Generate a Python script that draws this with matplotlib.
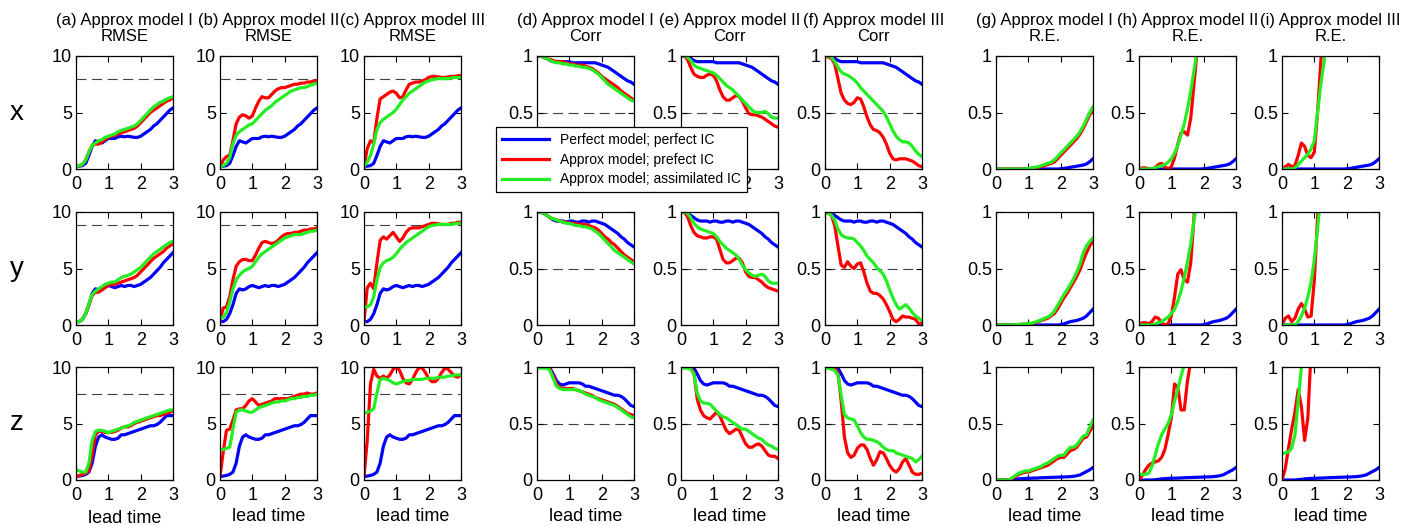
import numpy as np
import matplotlib
matplotlib.use("Agg")
import matplotlib.pyplot as plt
from matplotlib.lines import Line2D

plt.rcParams['font.family'] = ['Liberation Sans', 'DejaVu Sans']

lead_time = np.round(np.linspace(0, 3, 31), 2)

# ---- RMSE ----
rmse_x_pm = [0.2,0.25,0.3,0.5,1.2,2.0,2.5,2.4,2.3,2.5,2.7,2.7,2.7,2.85,2.9,2.85,2.9,2.85,2.8,2.8,2.9,3.1,3.3,3.5,3.8,4.0,4.3,4.6,4.9,5.2,5.4]
rmse_x_m1_pic = [0.2,0.3,0.4,0.8,1.5,2.1,2.2,2.2,2.4,2.6,2.8,2.9,3.0,3.1,3.2,3.3,3.4,3.5,3.6,3.8,4.1,4.4,4.7,5.0,5.2,5.4,5.6,5.8,6.0,6.1,6.3]
rmse_x_m1_aic = [0.2,0.3,0.4,0.8,1.5,2.1,2.3,2.5,2.6,2.8,2.9,3.0,3.1,3.3,3.4,3.5,3.6,3.7,3.8,4.0,4.3,4.6,4.9,5.2,5.5,5.7,5.9,6.0,6.2,6.3,6.4]
rmse_x_m2_pic = [0.2,0.8,1.1,1.2,2.5,4.0,4.6,4.8,4.7,4.5,4.7,5.4,6.0,6.4,6.3,6.3,6.6,6.9,7.1,7.2,7.2,7.3,7.4,7.5,7.5,7.6,7.6,7.7,7.7,7.8,7.8]
rmse_x_m2_aic = [0.2,0.3,0.5,1.0,2.2,3.0,3.3,3.5,3.7,3.9,4.0,4.3,4.6,4.9,5.2,5.4,5.6,5.9,6.1,6.3,6.5,6.7,6.9,7.0,7.1,7.2,7.2,7.3,7.4,7.5,7.6]
rmse_x_m3_pic = [0.2,1.8,2.5,2.3,4.5,6.2,6.4,6.6,6.8,6.9,6.7,6.3,6.4,7.0,7.5,7.6,7.7,7.7,7.8,7.9,8.1,8.2,8.2,8.15,8.1,8.1,8.15,8.2,8.2,8.25,8.3]
rmse_x_m3_aic = [0.2,0.6,1.2,2.2,3.5,4.1,4.4,4.6,4.8,5.0,5.3,5.7,6.1,6.4,6.7,6.9,7.1,7.3,7.5,7.7,7.8,7.9,7.95,8.0,8.0,8.0,8.0,8.05,8.1,8.1,8.1]

rmse_y_pm = [0.3,0.3,0.5,1.0,1.8,2.8,3.2,3.1,3.2,3.4,3.5,3.4,3.3,3.4,3.5,3.4,3.5,3.5,3.4,3.5,3.6,3.8,4.0,4.2,4.5,4.8,5.1,5.5,5.8,6.1,6.4]
rmse_y_m1_pic = [0.3,0.3,0.5,1.0,1.8,2.6,2.9,2.9,3.1,3.3,3.5,3.6,3.6,3.7,3.8,3.9,4.0,4.1,4.2,4.4,4.7,5.0,5.3,5.6,5.9,6.1,6.3,6.5,6.8,7.0,7.2]
rmse_y_m1_aic = [0.3,0.3,0.5,1.0,1.9,2.7,3.0,3.2,3.4,3.6,3.7,3.8,3.8,4.0,4.2,4.3,4.4,4.5,4.7,4.9,5.1,5.4,5.7,6.0,6.3,6.5,6.7,6.9,7.1,7.3,7.4]
rmse_y_m2_pic = [0.4,1.5,1.6,2.5,4.0,5.2,5.6,5.8,5.8,5.7,5.7,6.2,6.8,7.3,7.4,7.3,7.2,7.3,7.5,7.8,8.0,8.1,8.1,8.2,8.2,8.3,8.4,8.4,8.5,8.5,8.6]
rmse_y_m2_aic = [0.6,0.7,1.1,2.0,3.2,4.0,4.4,4.7,4.9,5.0,5.2,5.6,6.0,6.3,6.5,6.7,6.9,7.1,7.3,7.5,7.7,7.8,7.9,8.0,8.0,8.0,8.1,8.2,8.3,8.3,8.4]
rmse_y_m3_pic = [0.3,3.3,3.7,3.2,5.5,7.5,7.8,7.6,7.9,8.2,7.8,7.4,7.7,8.2,8.5,8.6,8.6,8.6,8.7,8.8,8.9,9.0,9.0,8.95,8.9,8.9,8.9,9.0,9.0,9.1,9.1]
rmse_y_m3_aic = [1.6,1.6,1.8,2.5,4.0,5.1,5.5,5.7,5.8,6.0,6.3,6.7,7.0,7.3,7.5,7.7,7.9,8.1,8.3,8.5,8.7,8.8,8.85,8.9,8.9,8.9,8.9,8.9,8.95,9.0,9.0]

rmse_z_pm = [0.3,0.35,0.4,0.5,0.7,1.5,3.0,3.8,4.0,3.8,3.7,3.6,3.6,3.7,4.0,4.0,4.1,4.2,4.3,4.4,4.5,4.6,4.7,4.8,4.8,4.9,5.1,5.4,5.7,5.7,5.7]
rmse_z_m1_pic = [0.3,0.4,0.5,0.6,0.8,2.2,4.0,4.3,4.3,4.2,4.2,4.2,4.3,4.4,4.6,4.7,4.7,4.8,5.0,5.1,5.2,5.3,5.4,5.5,5.6,5.7,5.7,5.8,5.9,6.0,6.1]
rmse_z_m1_aic = [0.9,0.8,0.7,0.7,1.5,3.5,4.3,4.4,4.4,4.3,4.2,4.3,4.4,4.5,4.6,4.7,4.8,4.9,5.1,5.2,5.3,5.4,5.5,5.6,5.7,5.8,5.9,6.0,6.1,6.2,6.2]
rmse_z_m2_pic = [0.3,2.5,4.4,4.5,5.3,6.2,6.3,6.3,6.6,7.0,7.2,6.9,6.6,6.7,6.8,6.9,7.0,7.2,7.2,7.2,7.2,7.2,7.3,7.4,7.5,7.6,7.6,7.7,7.6,7.6,7.7]
rmse_z_m2_aic = [2.7,2.7,2.8,2.9,4.5,6.0,6.2,6.2,6.1,6.0,6.0,6.2,6.4,6.5,6.6,6.7,6.8,6.9,6.9,7.0,7.0,7.1,7.2,7.2,7.3,7.3,7.4,7.4,7.5,7.5,7.6]
rmse_z_m3_pic = [0.3,3.5,8.5,9.8,9.2,9.0,9.2,9.0,9.3,9.8,10.0,9.7,9.0,8.6,8.5,8.9,9.5,9.95,9.9,9.5,9.0,8.7,8.7,9.0,9.5,9.9,9.8,9.5,9.2,9.1,9.3]
rmse_z_m3_aic = [5.9,6.0,6.1,6.3,7.7,8.9,9.0,8.9,8.8,8.6,8.5,8.6,8.7,8.8,8.8,8.9,8.9,8.9,8.9,9.0,9.0,9.0,9.0,9.1,9.1,9.1,9.2,9.2,9.3,9.3,9.3]

rmse_clim = [8.0, 8.85, 7.6]

# ---- Corr ----
corr_x_pm = [1.0,1.0,0.99,0.98,0.96,0.95,0.95,0.95,0.95,0.95,0.95,0.94,0.94,0.94,0.94,0.94,0.94,0.94,0.94,0.93,0.92,0.91,0.90,0.88,0.86,0.84,0.82,0.80,0.78,0.77,0.75]
corr_x_m1_pic = [1.0,1.0,0.99,0.98,0.97,0.96,0.95,0.95,0.95,0.94,0.93,0.93,0.92,0.92,0.92,0.91,0.90,0.89,0.87,0.85,0.82,0.80,0.78,0.76,0.74,0.72,0.69,0.67,0.65,0.63,0.61]
corr_x_m1_aic = [1.0,1.0,0.99,0.98,0.96,0.95,0.94,0.94,0.93,0.93,0.92,0.92,0.91,0.91,0.90,0.90,0.89,0.88,0.86,0.84,0.81,0.78,0.75,0.73,0.71,0.69,0.67,0.65,0.63,0.61,0.60]
corr_x_m2_pic = [1.0,1.0,0.97,0.90,0.84,0.82,0.81,0.81,0.83,0.84,0.83,0.78,0.70,0.64,0.61,0.61,0.63,0.65,0.64,0.60,0.54,0.49,0.48,0.48,0.47,0.46,0.44,0.42,0.40,0.38,0.37]
corr_x_m2_aic = [1.0,1.0,0.99,0.96,0.92,0.90,0.89,0.88,0.87,0.86,0.85,0.83,0.80,0.77,0.74,0.72,0.70,0.67,0.64,0.61,0.58,0.55,0.52,0.50,0.50,0.50,0.51,0.49,0.46,0.45,0.45]
corr_x_m3_pic = [1.0,0.99,0.98,0.93,0.80,0.67,0.61,0.58,0.57,0.59,0.63,0.62,0.55,0.46,0.39,0.35,0.34,0.32,0.28,0.22,0.14,0.09,0.08,0.09,0.09,0.09,0.08,0.07,0.05,0.03,0.02]
corr_x_m3_aic = [1.0,1.0,0.99,0.95,0.90,0.86,0.84,0.83,0.81,0.79,0.76,0.72,0.69,0.66,0.63,0.60,0.57,0.54,0.51,0.46,0.40,0.34,0.29,0.26,0.24,0.24,0.23,0.20,0.16,0.13,0.11]

corr_y_pm = [1.0,1.0,0.99,0.97,0.95,0.93,0.92,0.92,0.92,0.91,0.92,0.92,0.91,0.91,0.92,0.92,0.91,0.92,0.92,0.91,0.90,0.89,0.87,0.85,0.83,0.81,0.78,0.76,0.73,0.71,0.69]
corr_y_m1_pic = [1.0,1.0,0.99,0.97,0.95,0.94,0.93,0.92,0.91,0.91,0.90,0.90,0.90,0.89,0.89,0.89,0.88,0.87,0.86,0.84,0.81,0.78,0.76,0.73,0.71,0.68,0.65,0.62,0.60,0.58,0.56]
corr_y_m1_aic = [1.0,1.0,0.99,0.97,0.95,0.94,0.93,0.92,0.91,0.90,0.90,0.89,0.88,0.88,0.87,0.87,0.86,0.85,0.83,0.81,0.78,0.75,0.72,0.69,0.66,0.64,0.62,0.60,0.58,0.56,0.54]
corr_y_m2_pic = [1.0,1.0,0.96,0.88,0.82,0.79,0.78,0.77,0.77,0.78,0.78,0.76,0.67,0.58,0.55,0.55,0.57,0.59,0.59,0.55,0.47,0.43,0.42,0.42,0.40,0.38,0.35,0.33,0.32,0.31,0.30]
corr_y_m2_aic = [1.0,1.0,0.99,0.95,0.90,0.87,0.85,0.84,0.83,0.82,0.81,0.78,0.74,0.71,0.68,0.66,0.64,0.62,0.58,0.53,0.49,0.46,0.44,0.43,0.44,0.45,0.43,0.39,0.37,0.37,0.37]
corr_y_m3_pic = [1.0,0.99,0.97,0.88,0.70,0.53,0.51,0.56,0.52,0.50,0.54,0.55,0.47,0.37,0.30,0.28,0.28,0.26,0.23,0.18,0.12,0.05,0.03,0.05,0.08,0.07,0.07,0.06,0.05,0.01,0.02]
corr_y_m3_aic = [0.99,0.99,0.97,0.93,0.85,0.80,0.78,0.77,0.77,0.76,0.73,0.70,0.66,0.61,0.58,0.55,0.51,0.48,0.45,0.39,0.31,0.24,0.18,0.14,0.16,0.18,0.15,0.11,0.08,0.06,0.04]

corr_z_pm = [1.0,1.0,1.0,1.0,0.99,0.94,0.88,0.85,0.84,0.85,0.86,0.86,0.86,0.86,0.85,0.83,0.83,0.82,0.81,0.80,0.79,0.78,0.77,0.76,0.75,0.75,0.74,0.72,0.69,0.66,0.65]
corr_z_m1_pic = [1.0,1.0,1.0,1.0,0.98,0.92,0.85,0.82,0.81,0.81,0.81,0.81,0.80,0.79,0.78,0.77,0.76,0.75,0.73,0.72,0.71,0.70,0.69,0.68,0.67,0.65,0.63,0.61,0.59,0.58,0.57]
corr_z_m1_aic = [0.99,0.99,0.99,0.99,0.97,0.90,0.83,0.81,0.80,0.80,0.80,0.80,0.80,0.79,0.78,0.76,0.75,0.74,0.73,0.71,0.70,0.69,0.68,0.67,0.66,0.64,0.62,0.60,0.58,0.56,0.55]
corr_z_m2_pic = [1.0,1.0,1.0,0.99,0.95,0.72,0.62,0.57,0.55,0.54,0.57,0.60,0.57,0.50,0.44,0.41,0.43,0.45,0.44,0.38,0.32,0.29,0.29,0.31,0.32,0.30,0.26,0.22,0.21,0.21,0.19]
corr_z_m2_aic = [0.99,0.99,0.99,0.98,0.94,0.77,0.70,0.68,0.68,0.67,0.64,0.61,0.58,0.56,0.55,0.53,0.51,0.49,0.47,0.45,0.45,0.43,0.41,0.39,0.37,0.36,0.33,0.31,0.30,0.28,0.27]
corr_z_m3_pic = [1.0,1.0,1.0,0.99,0.95,0.70,0.38,0.24,0.20,0.22,0.28,0.31,0.31,0.27,0.19,0.13,0.18,0.25,0.24,0.19,0.13,0.09,0.07,0.10,0.16,0.19,0.13,0.07,0.05,0.05,0.06]
corr_z_m3_aic = [0.99,0.99,0.98,0.97,0.93,0.75,0.58,0.55,0.54,0.53,0.48,0.42,0.38,0.36,0.36,0.35,0.34,0.32,0.29,0.27,0.26,0.26,0.24,0.23,0.22,0.21,0.20,0.19,0.16,0.18,0.21]

# ---- Relative error (series stop once they leave the axes) ----
re_x_pm = [0,0,0,0,0,0,0,0,0,0,0,0,0,0,0,0,0,0,0,0,0.002,0.005,0.01,0.015,0.02,0.025,0.03,0.035,0.045,0.065,0.09]
re_x_m1_pic = [0,0,0,0,0,0,0,0,0,0,0.002,0.005,0.01,0.015,0.02,0.03,0.04,0.05,0.06,0.09,0.12,0.15,0.18,0.21,0.24,0.27,0.31,0.36,0.42,0.48,0.52]
re_x_m1_aic = [0,0,0,0,0,0,0,0,0,0,0.005,0.01,0.015,0.02,0.03,0.04,0.05,0.06,0.08,0.11,0.14,0.17,0.20,0.23,0.26,0.29,0.33,0.38,0.44,0.50,0.55]
re_x_m2_pic = [0,0.01,0.01,0,0,0.01,0.04,0.05,0.02,0,0.02,0.10,0.22,0.32,0.33,0.30,0.45,0.75,1.05,1.4]
re_x_m2_aic = [0,0,0,0,0.005,0.01,0.02,0.03,0.04,0.06,0.09,0.14,0.21,0.30,0.40,0.53,0.69,0.87,1.05]
re_x_m3_pic = [0,0.02,0.04,0.02,0.03,0.12,0.23,0.20,0.12,0.10,0.15,0.5,0.95,1.4]
re_x_m3_aic = [0,0,0,0,0.01,0.04,0.07,0.10,0.13,0.18,0.25,0.5,0.75,0.95,1.2]

re_y_pm = [0,0,0,0,0,0,0,0,0,0,0,0,0,0,0,0,0,0,0,0,0.003,0.01,0.02,0.03,0.035,0.04,0.05,0.06,0.08,0.11,0.14]
re_y_m1_pic = [0,0,0,0,0,0,0.002,0.004,0.006,0.008,0.01,0.012,0.02,0.03,0.04,0.05,0.06,0.08,0.10,0.14,0.19,0.24,0.28,0.33,0.38,0.43,0.49,0.57,0.64,0.70,0.74]
re_y_m1_aic = [0,0,0,0,0,0,0.003,0.005,0.008,0.01,0.013,0.016,0.025,0.035,0.045,0.06,0.07,0.09,0.12,0.17,0.22,0.27,0.31,0.36,0.41,0.47,0.54,0.64,0.70,0.74,0.77]
re_y_m2_pic = [0,0.02,0.02,0.01,0.03,0.07,0.06,0.02,0,0.01,0.08,0.25,0.45,0.49,0.40,0.38,0.55,0.95,1.4]
re_y_m2_aic = [0,0,0,0,0,0.01,0.02,0.03,0.05,0.07,0.10,0.14,0.21,0.30,0.42,0.56,0.72,0.92,1.1]
re_y_m3_pic = [0,0.06,0.08,0.03,0.06,0.14,0.19,0.14,0.07,0.08,0.4,0.95,1.5]
re_y_m3_aic = [0,0,0,0,0,0.03,0.08,0.15,0.25,0.38,0.58,0.85,1.15]

re_z_pm = [0,0,0,0,0,0.003,0.006,0.01,0.012,0.014,0.015,0.016,0.017,0.018,0.02,0.021,0.022,0.023,0.024,0.025,0.026,0.027,0.028,0.03,0.033,0.038,0.045,0.06,0.075,0.09,0.11]
re_z_m1_pic = [0,0,0,0,0,0.01,0.03,0.05,0.06,0.07,0.07,0.08,0.09,0.10,0.11,0.12,0.13,0.15,0.17,0.19,0.20,0.20,0.23,0.26,0.27,0.29,0.33,0.37,0.38,0.43,0.48]
re_z_m1_aic = [0,0,0,0,0,0.02,0.04,0.06,0.07,0.08,0.08,0.09,0.10,0.11,0.12,0.14,0.15,0.17,0.19,0.21,0.22,0.22,0.26,0.29,0.29,0.31,0.35,0.39,0.40,0.47,0.53]
re_z_m2_pic = [0,0.04,0.09,0.13,0.15,0.16,0.17,0.20,0.27,0.40,0.55,0.85,0.82,0.62,0.62,0.88,1.05]
re_z_m2_aic = [0.05,0.05,0.05,0.06,0.12,0.22,0.32,0.40,0.45,0.50,0.58,0.70,0.80,0.92,1.02]
re_z_m3_pic = [0,0.1,0.28,0.45,0.60,0.80,0.65,0.35,0.55,1.15]
re_z_m3_aic = [0.23,0.24,0.25,0.28,0.40,0.70,1.0,1.3]

variables = ['x', 'y', 'z']
metrics = ['RMSE', 'Corr', 'R.E.']
models = ['I', 'II', 'III']
letters = 'abcdefghi'
legend_labels = ['Perfect model; perfect IC', 'Approx model; prefect IC', 'Approx model; assimilated IC']

g = globals()
pre = {'RMSE': 'rmse', 'Corr': 'corr', 'R.E.': 're'}

BLUE, RED, GREEN = '#0000ff', '#ff0000', '#22ee22'

W, H = 1403, 526
fig = plt.figure(figsize=(W / 100, H / 100), dpi=100)
col_left = [76, 220, 364, 537, 681, 825, 996, 1139, 1282]
row_top = [56, 212, 367]
aw, ah = 97, 113

for r, var in enumerate(variables):
    for mi, met in enumerate(metrics):
        for k, mod in enumerate(models):
            c = mi * 3 + k
            ax = fig.add_axes([col_left[c] / W, 1 - (row_top[r] + ah) / H, aw / W, ah / H])
            p = pre[met] + '_' + var
            blue = g[p + '_pm']
            red = g[p + '_m%d_pic' % (k + 1)]
            green = g[p + '_m%d_aic' % (k + 1)]
            ax.plot(lead_time[:len(blue)], blue, color=BLUE, lw=2.3)
            ax.plot(lead_time[:len(red)], red, color=RED, lw=2.3)
            ax.plot(lead_time[:len(green)], green, color=GREEN, lw=2.3)
            if met == 'RMSE':
                ax.axhline(rmse_clim[r], color='0.25', lw=0.8, ls=(0, (9, 5)), zorder=0)
                ax.set_ylim(0, 10)
                ax.set_yticks([0, 5, 10])
                ax.set_yticklabels(['0', '5', '10'])
            else:
                if met == 'Corr':
                    ax.axhline(0.5, color='0.25', lw=0.8, ls=(0, (9, 5)), zorder=0)
                ax.set_ylim(0, 1)
                ax.set_yticks([0, 0.5, 1])
                ax.set_yticklabels(['0', '0.5', '1'])
            ax.set_xlim(0, 3)
            ax.set_xticks([0, 1, 2, 3])
            ax.tick_params(direction='in', top=True, right=True, length=4,
                           width=0.8, labelsize=13)
            ax.tick_params(axis='x', pad=5)
            ax.tick_params(axis='y', pad=3)
            for s in ax.spines.values():
                s.set_linewidth(0.9)
            if r == 0:
                ax.set_title('(%s) Approx model %s\n%s' % (letters[c], mod, met),
                             fontsize=12, pad=11, linespacing=1.1)
            if r == 2:
                ax.set_xlabel('lead time', fontsize=13, labelpad=3 if c else 4.5)
    fig.text(17 / W, 1 - (row_top[r] + ah / 2) / H, var, fontsize=20,
             ha='center', va='center')

handles = [Line2D([], [], color=col, lw=2.3) for col in (BLUE, RED, GREEN)]
leg = fig.legend(handles, legend_labels, loc='upper left',
                 bbox_to_anchor=(496 / W, 1 - 127 / H), fontsize=10,
                 fancybox=False, framealpha=1, edgecolor='black',
                 borderaxespad=0, handlelength=3.4, labelspacing=0.42,
                 borderpad=0.42)
leg.get_frame().set_linewidth(0.9)

fig.savefig('out.png', dpi=100)
